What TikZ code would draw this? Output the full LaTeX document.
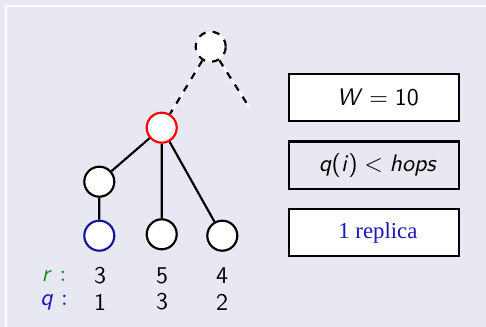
\documentclass[tikz,border=0pt]{standalone}
\usepackage{fontspec}
\newfontfamily\replicafont{Liberation Serif}
\usetikzlibrary{positioning}
\definecolor{slidebg}{RGB}{232,232,242}
\definecolor{rgreen}{RGB}{30,140,30}
\definecolor{qblue}{RGB}{25,25,185}

\begin{document}
\begin{tikzpicture}[x=0.4167pt,y=-0.4167pt,
  vertex/.style={circle,draw,line width=0.9pt,fill=white,minimum size=12.5pt,inner sep=0pt},
  condbox/.style={draw,line width=0.9pt,minimum width=70.8pt,minimum height=19.7pt,inner sep=0pt}]
\useasboundingbox[fill=slidebg] (0,0) rectangle (486,327);
\draw[white,line width=0.5pt] (6,327) -- (6,6) -- (486,6);
% tree
\node[vertex,dashed] (top) at (210.7,46.7) {};
\node[vertex,draw=red] (mid) at (161.7,127.7) {};
\node[vertex] (left) at (99.3,181.7) {};
\node[vertex,draw=qblue!85!black] (b1) at (99.3,235.7) {};
\node[vertex] (b2) at (161.7,234.3) {};
\node[vertex] (b3) at (222.3,235.7) {};
\coordinate (up) at (249.3,107.3);
\draw[white,line width=0.9pt] (top) -- (mid) (top) -- (up);
\draw[line width=0.9pt,dashed] (top) -- (mid) (top) -- (up);
\draw[line width=0.9pt] (mid) -- (left) (left) -- (b1) (mid) -- (b2) (mid) -- (b3);
% r and q values
\node[rgreen] (rlab) at (54,276) {\textsf{\textit{r}} :};
\node[qblue] (qlab) at (54,302) {\textsf{\textit{q}} :};
\node (r1) at (100,276) {\textsf{3}};
\node (r2) at (162,276) {\textsf{5}};
\node (r3) at (222,276) {\textsf{4}};
\node (q1) at (100,302) {\textsf{1}};
\node (q2) at (162,302) {\textsf{3}};
\node (q3) at (222,302) {\textsf{2}};
% conditions
\node[condbox,fill=white] (wbox) at (374.3,97.7) {\hspace{3pt}{\sffamily\textit{W}\;$=$\;10}};
\node[condbox] (hbox) at (374.3,165.2) {\hspace{3pt}{\sffamily\textit{q}(\textit{i})\;$<$\;\textit{hops}}};
\node[condbox,fill=white] (rbox) at (374.3,232.7) {\hspace{3pt}{\replicafont\fontsize{9.5}{11}\selectfont\color{qblue}1 replica}};
\end{tikzpicture}
\end{document}
